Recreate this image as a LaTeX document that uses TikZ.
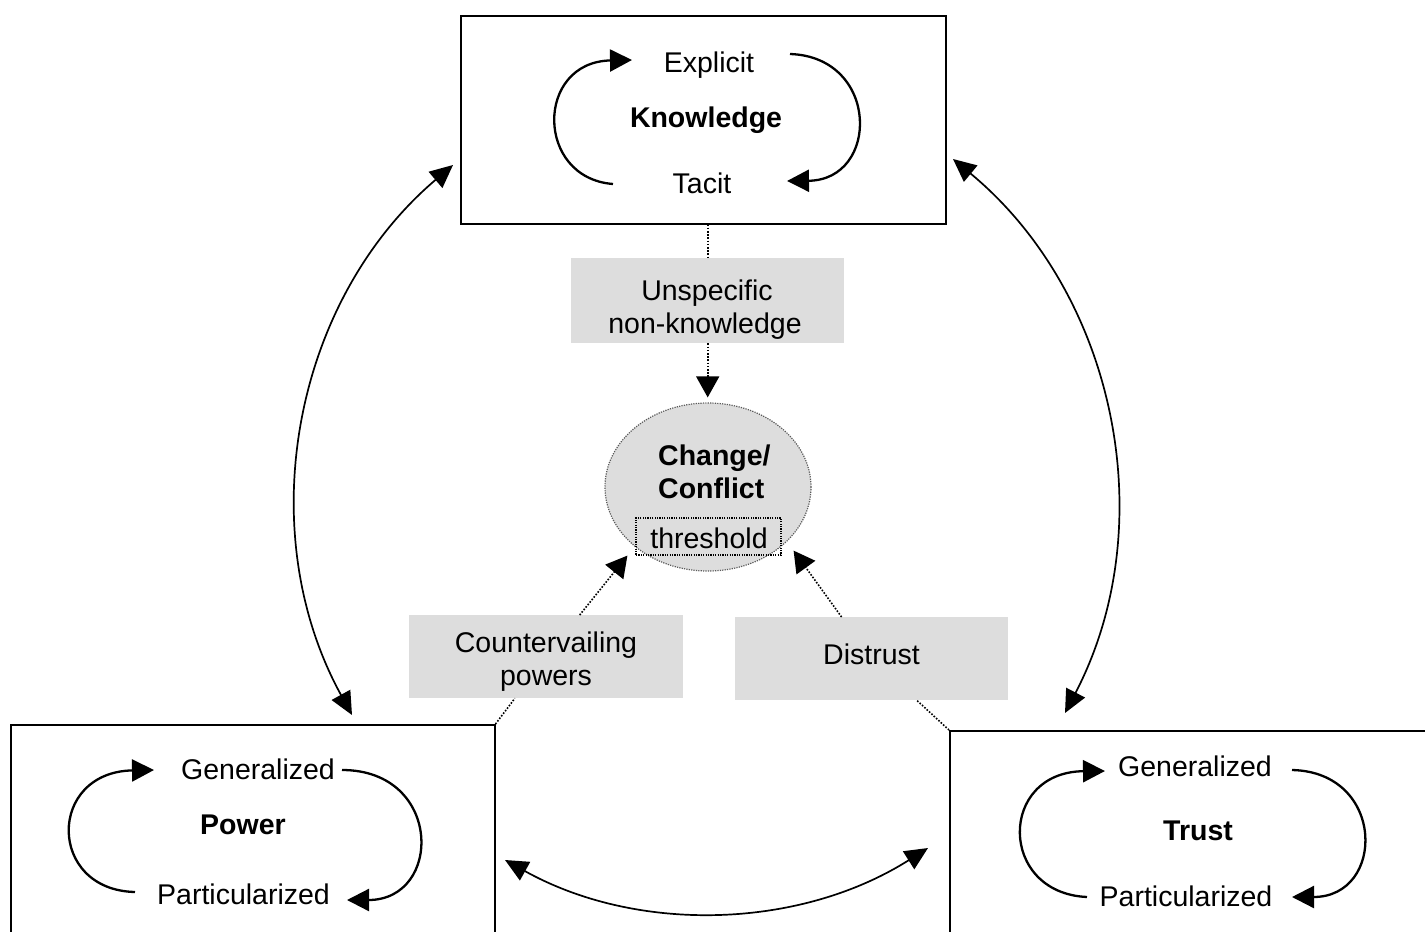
\documentclass[tikz,border=0pt]{standalone}
\usepackage{fontspec}
\setmainfont{Liberation Sans}
\usetikzlibrary{arrows.meta,shapes.geometric,calc}
\definecolor{boxgrey}{RGB}{221,221,221}
\definecolor{ellborder}{RGB}{90,90,90}
\begin{document}
\begin{tikzpicture}[x=1pt,y=-1pt,
  txt/.style={font=\fontsize{28.5}{33}\selectfont, inner sep=0pt, anchor=base},
  btxt/.style={font=\fontsize{28.5}{33}\selectfont\bfseries, inner sep=0pt, anchor=base},
  frame/.style={draw, line width=1.5pt, inner sep=0pt, anchor=north west},
  greybox/.style={fill=boxgrey, inner sep=0pt, anchor=north west},
  cyc/.style={line width=2.3pt, -{Triangle[length=22pt,width=22pt]}},
  dbl/.style={line width=1.7pt, {Triangle[length=23pt,width=21pt]}-{Triangle[length=23pt,width=21pt]}},
  dotline/.style={line width=1.6pt, dash pattern=on 1.6pt off 1.6pt},
  dotarrow/.style={dotline, -{Triangle[length=21pt,width=23pt]}},
  fineDots/.style={line width=1.2pt, dash pattern=on 1.2pt off 1.2pt}]
\useasboundingbox (0,0) rectangle (1425,932);
\fill[white] (0,0) rectangle (1425,932);
\clip (0,0) rectangle (1425,932);

% main boxes
\node[frame, minimum width=485pt, minimum height=208pt] (kn) at (460,15) {};
\node[frame, minimum width=484pt, minimum height=300pt] (pw) at (10,724) {};
\node[frame, minimum width=500pt, minimum height=300pt] (tr) at (949,730) {};

% grey label boxes
\node[greybox, minimum width=273pt, minimum height=85pt] (un) at (571,258) {};
\node[greybox, minimum width=274pt, minimum height=83pt] (cp) at (409,615) {};
\node[greybox, minimum width=273pt, minimum height=83pt] (ds) at (735,617) {};

% central ellipse
\node[ellipse, draw=ellborder, fineDots, fill=boxgrey, minimum width=206pt, minimum height=168pt, inner sep=0pt] (ell) at (708,487) {};
\node[draw, fineDots, minimum width=145pt, minimum height=37pt, inner sep=0pt] (thr) at (708.5,536.5) {};

% texts
\node[txt] (kex) at (709,72) {Explicit};
\node[btxt] (kkn) at (706,127) {Knowledge};
\node[txt] (kta) at (702,193) {Tacit};

\node[txt] (pge) at (258,779) {Generalized};
\node[btxt] (ppo) at (243,834) {Power};
\node[txt] (ppa) at (243.5,904) {Particularized};

\node[txt] (tge) at (1195,776) {Generalized};
\node[btxt] (ttr) at (1198,840) {Trust};
\node[txt] (tpa) at (1186,906) {Particularized};

\node[txt] (un1) at (707,300) {Unspecific};
\node[txt] (un2) at (705,333) {non-knowledge};

\node[btxt, anchor=base west] (ch1) at (658,465) {Change/};
\node[btxt, anchor=base west] (ch2) at (658,498) {Conflict};
\node[txt] (thtx) at (709,548) {threshold};

\node[txt] (cp1) at (546,652) {Countervailing};
\node[txt] (cp2) at (546,685) {powers};
\node[txt] (dst) at (871.5,664) {Distrust};

% cycles inside boxes
\draw[cyc] (613,184) .. controls (535,178) and (535,62) .. (632,60);
\draw[cyc] (790,54) .. controls (880,57) and (880,180) .. (787,181);

\draw[cyc] (135,892) .. controls (47,890) and (47,772) .. (154,770);
\draw[cyc] (342,770) .. controls (443,770) and (443,900) .. (347,900);

\draw[cyc] (1087,897) .. controls (998,893) and (998,772) .. (1105,771);
\draw[cyc] (1292,770) .. controls (1386,772) and (1386,897) .. (1292,897);

% dotted connectors
\draw[dotline] (un.north |- kn.south) -- (un.north);
\draw[dotarrow, shorten >=5pt] (un.south) -- (un.south |- ell.north);
\draw[dotline] (pw.north east) -- (cp);
\draw[dotarrow] (cp) -- ($(thr.south west)+(-8,0)$);
\draw[dotline] (tr.north west) -- (ds);
\draw[dotarrow] (ds) -- ($(thr.south east)+(12,-5)$);

% long double arrows
\coordinate (kl) at (453,165);
\coordinate (pt) at (352,715);
\coordinate (kr) at (953,159);
\coordinate (tt) at (1065,713);
\coordinate (pr) at (505,860);
\coordinate (tl) at (928,848);
\draw[dbl] (kl) .. controls (293,301) and (251,531) .. (pt);
\draw[dbl] (kr) .. controls (1116,294) and (1163,525) .. (tt);
\draw[dbl] (pr) .. controls (638,934) and (800,929) .. (tl);
\end{tikzpicture}
\end{document}
